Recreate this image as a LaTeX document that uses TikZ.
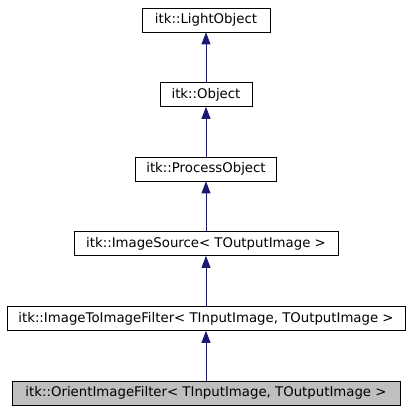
\documentclass[tikz,border=0pt]{standalone}
\usepackage{fontspec}
\setmainfont{DejaVu Sans}
\usetikzlibrary{arrows.meta}
\definecolor{edgeblue}{HTML}{191970}
\definecolor{boxgray}{HTML}{BFBFBF}
\tikzset{
  cls/.style={draw=black, line width=0.8pt, rectangle, inner sep=0pt, minimum height=24pt, font=\fontsize{13.3}{15}\selectfont, anchor=center},
  inh/.style={draw=edgeblue, line width=0.8pt, -{Triangle[length=12pt,width=9pt]}},
}
\begin{document}
\begin{tikzpicture}[x=1pt,y=1pt]
\useasboundingbox (0,0) rectangle (411,411);
\fill[white] (0,0) rectangle (411,411);
\node[cls, minimum width=128pt] (lo) at (206,391) {itk::LightObject};
\node[cls, minimum width=92pt] (ob) at (206,316.5) {itk::Object};
\node[cls, minimum width=141pt] (po) at (206,242) {itk::ProcessObject};
\node[cls, minimum width=264pt] (is) at (206,167.5) {itk::ImageSource< TOutputImage >};
\node[cls, minimum width=398pt] (itif) at (206,92.5) {itk::ImageToImageFilter< TInputImage, TOutputImage >};
\node[cls, minimum width=388pt, fill=boxgray] (oif) at (206,18) {itk::OrientImageFilter< TInputImage, TOutputImage >};
\draw[inh] (ob.north) -- (lo.south);
\draw[inh] (po.north) -- (ob.south);
\draw[inh] (is.north) -- (po.south);
\draw[inh] (itif.north) -- (is.south);
\draw[inh] (oif.north) -- (itif.south);
\end{tikzpicture}
\end{document}
